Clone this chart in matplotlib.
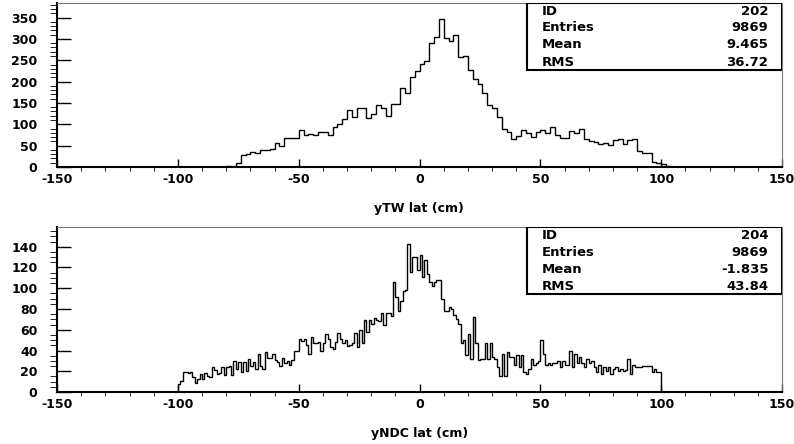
import numpy as np
import matplotlib.pyplot as plt
from matplotlib.patches import Rectangle
from matplotlib.ticker import MultipleLocator

plt.rcParams['axes.unicode_minus'] = False

# yTW lat histogram, 2 cm bins starting at -86 cm
tw_start = -86
tw_width = 2
tw_counts = [0, 1, 1, 3, 1, 9, 27, 31, 35, 33, 40, 40, 43, 56, 49, 69, 69, 69,
             86, 74, 77, 74, 82, 82, 76, 94, 100, 113, 133, 116, 137, 138, 115,
             125, 145, 137, 119, 148, 148, 185, 174, 211, 224, 242, 248, 290,
             304, 347, 302, 296, 308, 257, 259, 228, 205, 195, 173, 145, 137,
             117, 88, 81, 65, 72, 86, 79, 71, 81, 86, 79, 93, 75, 68, 67, 85,
             79, 90, 65, 61, 58, 54, 57, 51, 63, 65, 55, 63, 65, 38, 32, 32, 12,
             10, 7, 3, 1, 1]
tw_stats = [("ID", "202"), ("Entries", "9869"), ("Mean", "9.465"), ("RMS", "36.72")]

# yNDC lat histogram, 1 cm bins from -100 to 100 cm
ndc_start = -100
ndc_width = 1
ndc_counts = [8, 11, 19, 19, 18, 19, 14, 9, 13, 17,
              13, 18, 15, 14, 24, 21, 17, 18, 24, 16,
              24, 25, 16, 30, 22, 29, 19, 29, 20, 32,
              25, 29, 22, 37, 25, 22, 39, 33, 33, 37,
              31, 29, 25, 33, 28, 30, 26, 31, 40, 40,
              51, 49, 51, 45, 37, 53, 47, 47, 48, 40,
              47, 56, 51, 43, 41, 48, 57, 51, 47, 50,
              44, 45, 47, 57, 43, 60, 47, 69, 58, 69,
              66, 71, 69, 68, 76, 65, 76, 76, 73, 106,
              92, 78, 88, 97, 98, 143, 116, 130, 130, 118,
              132, 111, 127, 114, 106, 102, 106, 108, 108, 90,
              78, 78, 82, 80, 74, 70, 66, 47, 50, 36,
              56, 32, 72, 47, 31, 32, 32, 47, 32, 47,
              34, 32, 24, 15, 37, 15, 39, 34, 34, 26,
              36, 24, 36, 19, 17, 22, 32, 26, 28, 30,
              50, 37, 26, 28, 26, 28, 28, 30, 24, 30,
              26, 26, 40, 24, 37, 28, 34, 28, 24, 32,
              28, 30, 24, 19, 26, 17, 24, 20, 24, 17,
              22, 24, 20, 22, 20, 21, 32, 17, 26, 24,
              24, 24, 25, 25, 25, 25, 19, 22, 19, 19]
ndc_stats = [("ID", "204"), ("Entries", "9869"), ("Mean", "-1.835"), ("RMS", "43.84")]


def draw_panel(ax, start, width, counts, ymax, ymajor, yminor, stats):
    edges = start + width * np.arange(len(counts) + 1)
    ax.stairs(counts, edges, baseline=0, color='black', linewidth=1.0)
    ax.set_xlim(-150, 150)
    ax.set_ylim(0, ymax)
    ax.xaxis.set_major_locator(MultipleLocator(50))
    ax.xaxis.set_minor_locator(MultipleLocator(10))
    ax.yaxis.set_major_locator(MultipleLocator(ymajor))
    ax.yaxis.set_minor_locator(MultipleLocator(yminor))
    ax.tick_params(direction='in', labelsize=9, width=1.0)
    ax.tick_params(axis='x', which='major', length=6, pad=4)
    ax.tick_params(axis='x', which='minor', length=3)
    ax.tick_params(axis='y', which='major', length=10, pad=14)
    ax.tick_params(axis='y', which='minor', length=5, pad=14)
    for lab in ax.get_xticklabels() + ax.get_yticklabels():
        lab.set_fontweight('bold')
    ax.spines['left'].set_linewidth(1.5)
    ax.spines['bottom'].set_linewidth(1.5)
    for s in ('top', 'right'):
        ax.spines[s].set_color('#777777')
        ax.spines[s].set_linewidth(0.8)

    box = Rectangle((0.648, 0.592), 0.352, 0.408, transform=ax.transAxes,
                    facecolor='white', edgecolor='black', linewidth=1.5, zorder=5)
    ax.add_patch(box)
    rows = [0.951, 0.848, 0.744, 0.640]
    for (name, val), y in zip(stats, rows):
        ax.text(0.668, y, name, transform=ax.transAxes, fontsize=9.5,
                fontweight='bold', va='center', ha='left', zorder=6)
        ax.text(0.981, y, val, transform=ax.transAxes, fontsize=9.5,
                fontweight='bold', va='center', ha='right', zorder=6)


fig = plt.figure(figsize=(7.94, 4.44), dpi=100)
ax1 = fig.add_axes([0.0718, 0.6239, 0.9132, 0.3693])
ax2 = fig.add_axes([0.0718, 0.1171, 0.9132, 0.3716])

draw_panel(ax1, tw_start, tw_width, tw_counts, 384, 50, 10, tw_stats)
draw_panel(ax2, ndc_start, ndc_width, ndc_counts, 159, 20, 5, ndc_stats)

fig.text(0.528, 1 - 208 / 444, "yTW lat (cm)", fontsize=9, fontweight='bold',
         ha='center', va='center')
fig.text(0.528, 1 - 433 / 444, "yNDC lat (cm)", fontsize=9, fontweight='bold',
         ha='center', va='center')

fig.savefig('out.png', dpi=100)
